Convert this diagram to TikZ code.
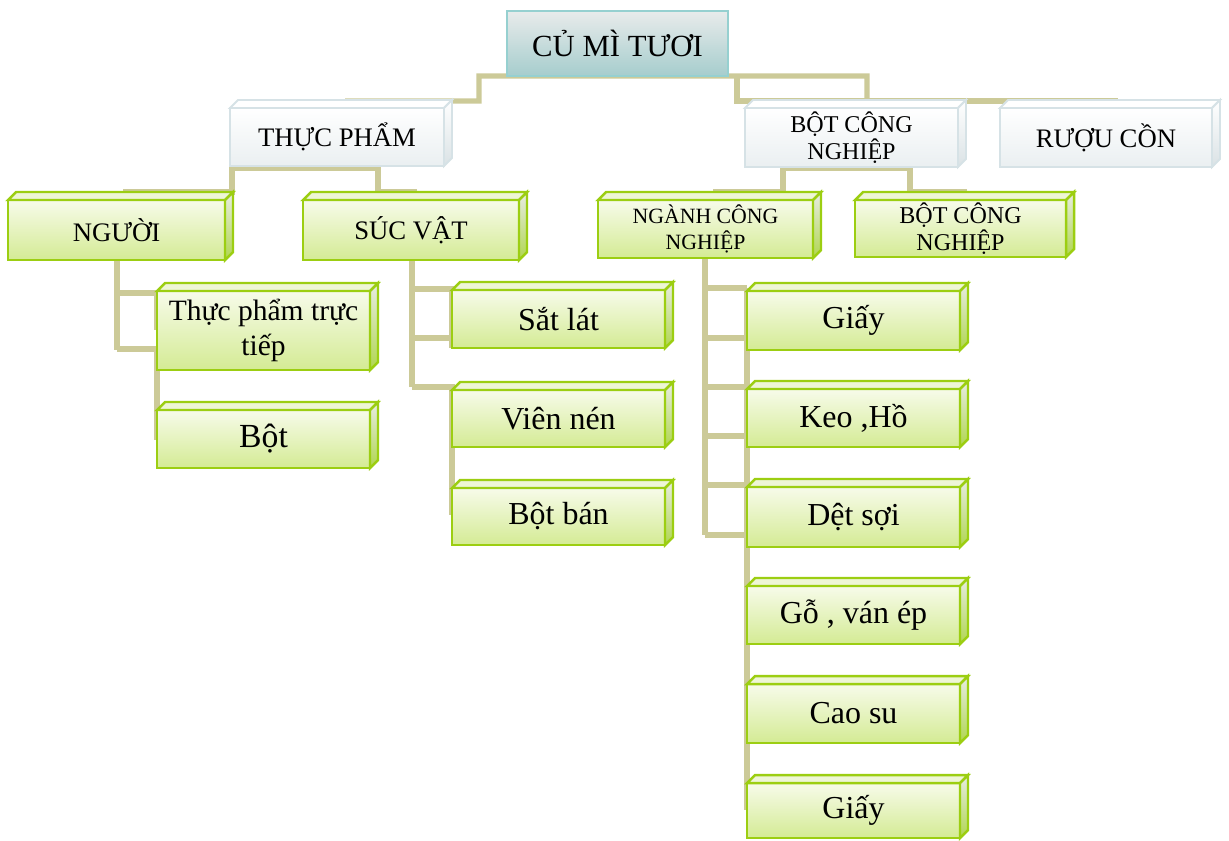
\documentclass[tikz,border=0pt]{standalone}
\usepackage{fontspec}
\setmainfont{Liberation Serif}
\pgfdeclarelayer{bg}
\pgfsetlayers{bg,main}

\definecolor{connc}{RGB}{204,202,152}
\definecolor{rootline}{RGB}{150,208,208}
\definecolor{roottop}{RGB}{232,235,235}
\definecolor{rootbot}{RGB}{166,205,205}
\definecolor{grayline}{RGB}{214,226,230}
\definecolor{graybot}{RGB}{234,239,241}
\definecolor{grayside}{RGB}{218,226,229}
\definecolor{greenline}{RGB}{156,206,18}
\definecolor{greentop}{RGB}{247,251,234}
\definecolor{greenbot}{RGB}{212,235,148}
\definecolor{greenface}{RGB}{238,246,214}
\definecolor{greensidetop}{RGB}{232,236,228}
\definecolor{greensidebot}{RGB}{176,214,80}

\tikzset{
  x=0.02cm, y=-0.02cm,
  conn/.style={draw=connc, line width=2.9pt},
  base/.style={rectangle, inner sep=0pt, outer sep=0pt, align=center, text=black},
  rootbox/.style={base, draw=rootline, line width=1.2pt, top color=roottop, bottom color=rootbot,
    font=\fontsize{17.5}{21}\selectfont},
  graybox/.style={base, draw=grayline, line width=1.1pt, top color=white, bottom color=graybot,
    font=\fontsize{15.2}{16.5}\selectfont},
  graytwo/.style={graybox, font=\fontsize{13.7}{15.6}\selectfont},
  greenbox/.style={base, draw=greenline, line width=1.4pt, top color=greentop, bottom color=greenbot,
    font=\fontsize{18.2}{20.5}\selectfont},
  midgreen/.style={greenbox, font=\fontsize{15.2}{17}\selectfont},
  nganhfont/.style={font=\fontsize{12.4}{14.5}\selectfont},
  bcnfont/.style={font=\fontsize{13.7}{15}\selectfont},
  graytopface/.style={draw=grayline, line width=1.1pt, fill=white},
  graysideface/.style={draw=grayline, line width=1.1pt, top color=white, bottom color=grayside},
  greentopface/.style={draw=greenline, line width=1.4pt, fill=greenface},
  greensideface/.style={draw=greenline, line width=1.4pt, top color=greensidetop, bottom color=greensidebot},
}

% box given by its front face: name, style, x1, y1, x2, y2, text
\newcommand\cubebox[7]{%
  \node[#2, minimum width={(#5-#3)*0.02cm}, minimum height={(#6-#4)*0.02cm}]
    (#1) at ({(#3+#5)/2},{(#4+#6)/2}) {#7};}
% top and side faces of a box: name, top style, side style
\newcommand\cubefaces[3]{%
  \path[#2] (#1.north west) -- ([shift={(8,-8)}]#1.north west)
    -- ([shift={(8,-8)}]#1.north east) -- (#1.north east) -- cycle;
  \path[#3] (#1.north east) -- ([shift={(8,-8)}]#1.north east)
    -- ([shift={(8,-8)}]#1.south east) -- (#1.south east) -- cycle;}

\begin{document}
\begin{tikzpicture}
\useasboundingbox (0,0) rectangle (1229,840);

% root
\cubebox{root}{rootbox}{507}{11}{728}{76}{CỦ MÌ TƯƠI}

% second level
\cubebox{tp}{graybox}{230}{108}{444}{166}{THỰC PHẨM}
\cubebox{bcn}{graytwo}{745}{108}{958}{167}{BỘT CÔNG\\NGHIỆP}
\cubebox{ruou}{graybox}{1000}{108}{1212}{167}{RƯỢU CỒN}
\foreach \n in {tp,bcn,ruou} {\cubefaces{\n}{graytopface}{graysideface}}

% third level
\cubebox{nguoi}{midgreen}{8}{200}{225}{260}{NGƯỜI}
\cubebox{sucvat}{midgreen}{303}{200}{519}{260}{SÚC VẬT}
\cubebox{nganh}{greenbox,nganhfont}{598}{200}{813}{258}{NGÀNH CÔNG\\NGHIỆP}
\cubebox{bcn2}{greenbox,bcnfont}{855}{200}{1066}{257}{BỘT CÔNG\\NGHIỆP}

% leaves
\cubebox{tptt}{greenbox,font=\fontsize{16.8}{20.3}\selectfont}{157}{291}{370}{370}{Thực phẩm trực\\tiếp}
\cubebox{bot}{greenbox,font=\fontsize{19.2}{22}\selectfont}{157}{410}{370}{468}{Bột}
\cubebox{satlat}{greenbox}{452}{290}{665}{348}{Sắt lát}
\cubebox{viennen}{greenbox}{452}{390}{665}{447}{Viên nén}
\cubebox{botban}{greenbox}{452}{488}{665}{545}{Bột bán}
\cubebox{giay}{greenbox}{747}{291}{960}{350}{\raisebox{8\dimexpr0.02cm\relax}{Giấy}}
\cubebox{keo}{greenbox}{747}{389}{960}{447}{Keo ,Hồ}
\cubebox{det}{greenbox}{747}{487}{960}{547}{Dệt sợi}
\cubebox{go}{greenbox}{747}{586}{960}{644}{Gỗ , ván ép}
\cubebox{cao}{greenbox}{747}{684}{960}{743}{Cao su}
\cubebox{giaytwo}{greenbox}{747}{783}{960}{838}{Giấy}
\foreach \n in {nguoi,sucvat,nganh,bcn2,tptt,bot,satlat,viennen,botban,giay,keo,det,go,cao,giaytwo}
  {\cubefaces{\n}{greentopface}{greensideface}}

\begin{pgfonlayer}{bg}
  % root to THỰC PHẨM, BỘT CÔNG NGHIỆP, RƯỢU CỒN
  \draw[conn] (345,101) -- (479,101) |- (root.south) -- (867,76) -- (867,101);
  \draw[conn] (737,76) -- (737,101) -- (1118,101);
  % THỰC PHẨM to NGƯỜI and SÚC VẬT
  \draw[conn] (123,192) -- (232,192) -- (232,168) -- (378,168) -- (378,192) -- (417,192);
  % NGƯỜI to its items
  \draw[conn] (117,260) -- (117,350);
  \draw[conn] (117,293) -| (tptt.west |- 0,330);
  \draw[conn] (117,349) -| (bot.west |- 0,440);
  % SÚC VẬT to its items
  \draw[conn] (412,260) -- (412,387);
  \draw[conn] (412,289) -| (satlat.west |- 0,348);
  \draw[conn] (412,338) -- (452,338);
  \draw[conn] (412,387) -| (botban.west |- 0,515);
  % BỘT CÔNG NGHIỆP to NGÀNH CÔNG NGHIỆP and BỘT CÔNG NGHIỆP
  \draw[conn] (713,192) -- (783,192) -- (783,168) -- (910,168) -- (910,192) -- (967,192);
  % NGÀNH CÔNG NGHIỆP to its items
  \draw[conn] (705,258) -- (705,535);
  \foreach \yy in {288,338,387,436,485,535} {\draw[conn] (705,\yy) -- (747,\yy);}
  \draw[conn] (747,288) -- (giaytwo.west |- 0,810);
\end{pgfonlayer}
\end{tikzpicture}
\end{document}
